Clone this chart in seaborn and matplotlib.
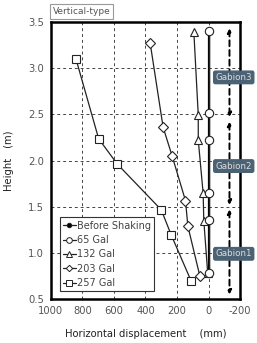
import matplotlib
matplotlib.use("Agg")
import matplotlib.pyplot as plt
import seaborn as sns
import pandas as pd
from matplotlib.lines import Line2D

sns.set_theme(style="white")
plt.rcParams['font.family'] = ['DejaVu Sans', 'Noto Sans CJK JP']

# Data (horizontal displacement in mm, height in m)
h_65 = [0.78, 1.36, 1.65, 2.22, 2.51, 3.40]
x_65 = [0, 0, 0, 0, 0, 0]
h_before = [0.78, 1.36, 1.65, 2.22, 2.51, 3.40]
x_before = [0, 0, 0, 0, 0, 0]
h_132 = [0.78, 1.35, 1.645, 2.22, 2.49, 3.39]
x_132 = [5, 30, 34, 65, 65, 93]
h_203 = [0.75, 1.29, 1.565, 2.05, 2.36, 3.27]
x_203 = [55, 131, 146, 231, 288, 370]
h_257 = [0.695, 1.196, 1.467, 1.964, 2.236, 3.095]
x_257 = [110, 237, 300, 580, 697, 840]

series_names = ["Before Shaking", "65 Gal", "132 Gal", "203 Gal", "257 Gal"]
gabion_labels = ["Gabion1", "Gabion2", "Gabion3"]
gabion_y = [0.99, 1.94, 2.90]
gabion_ranges = [(0.55, 1.47), (1.52, 2.42), (2.47, 3.43)]
gabion_x = -133
label_x = -160

xticks = [1000, 800, 600, 400, 200, 0, -200]
yticks = [0.5, 1.0, 1.5, 2.0, 2.5, 3.0, 3.5]

fig = plt.figure(figsize=(2.57, 3.43), dpi=100)
ax = fig.add_axes([0.198, 0.128, 0.736, 0.808])

styles = {
    "Before Shaking": dict(marker="o", ms=3, mfc="black", lw=1.6, color="black"),
    "65 Gal": dict(marker="o", ms=6.0, mfc="white", lw=1.0, color="#222222"),
    "132 Gal": dict(marker="^", ms=6.0, mfc="white", lw=0.9, color="#222222"),
    "203 Gal": dict(marker="D", ms=4.8, mfc="white", lw=0.9, color="#222222"),
    "257 Gal": dict(marker="s", ms=6.0, mfc="white", lw=0.9, color="#222222"),
}
data = {
    "Before Shaking": (x_before, h_before),
    "65 Gal": (x_65, h_65),
    "132 Gal": (x_132, h_132),
    "203 Gal": (x_203, h_203),
    "257 Gal": (x_257, h_257),
}

# Grid
for gx in [800, 600, 400, 200, 0]:
    ax.axvline(gx, color="#444444", ls=(0, (3, 3)), lw=0.7, zorder=0)
for gy in [1.0, 1.5, 2.0, 2.5, 3.0]:
    ax.axhline(gy, color="#444444", ls=(0, (3, 3)), lw=0.7, zorder=0)

for name in ["257 Gal", "203 Gal", "132 Gal", "Before Shaking", "65 Gal"]:
    xs, hs = data[name]
    df = pd.DataFrame({"x": xs, "h": hs})
    st = styles[name]
    sns.lineplot(data=df, x="x", y="h", sort=False, estimator=None, ax=ax,
                 color=st["color"], lw=st["lw"], marker=st["marker"],
                 markersize=st["ms"], markerfacecolor=st["mfc"],
                 markeredgecolor="#222222", markeredgewidth=0.8, zorder=3)

# Legend handles
leg_handles = []
for name in series_names:
    st = styles[name]
    leg_handles.append(Line2D([], [], color="#222222", lw=0.9, marker=st["marker"],
                              markersize=st["ms"] * 0.68 if name != "Before Shaking" else 3.2,
                              markerfacecolor=st["mfc"], markeredgecolor="#222222",
                              markeredgewidth=0.7))
leg = ax.legend(leg_handles, series_names, loc="lower left", bbox_to_anchor=(0.02, 0.01),
                fontsize=7, handlelength=1.3, handletextpad=0.1, labelspacing=0.45,
                borderpad=0.35, frameon=True, fancybox=False, edgecolor="#333333",
                framealpha=1, labelcolor="#444444")
leg.get_frame().set_linewidth(0.8)

# Gabion arrows
for (lo, hi) in gabion_ranges:
    ax.annotate("", xy=(gabion_x, lo), xytext=(gabion_x, hi),
                arrowprops=dict(arrowstyle="<|-|>", color="black", lw=1.4, ls=(0, (3, 2)),
                                mutation_scale=6, shrinkA=0, shrinkB=0), zorder=4)
for lab, gy in zip(gabion_labels, gabion_y):
    ax.text(label_x, gy, lab, ha="center", va="center", fontsize=6.3, color="#dddddd",
            bbox=dict(boxstyle="round,pad=0.2", fc="#4a6274", ec="#4a6274"),
            clip_on=False, zorder=6)

ax.set_xlim(1000, -200)
ax.set_ylim(0.5, 3.5)
ax.set_xticks(xticks)
ax.set_xticklabels([str(v) for v in xticks])
ax.set_yticks(yticks)
ax.set_yticklabels([f"{v:.1f}" for v in yticks])
ax.tick_params(axis="both", direction="in", length=3, width=0.8, labelsize=7.2,
               labelcolor="#555555", pad=5, color="black")
for s in ax.spines.values():
    s.set_linewidth(1.8)
    s.set_color("black")

ax.set_xlabel("Horizontal displacement\u3000 (mm)", fontsize=7.2, color="#222222", labelpad=9)
ax.set_ylabel("Height\u3000(m)", fontsize=7.2, color="#222222", labelpad=10)

fig.text(0.318, 0.967, "Vertical-type", ha="center", va="center", fontsize=6.5, color="#555555",
         bbox=dict(boxstyle="square,pad=0.3", fc="white", ec="#999999", lw=0.8))

fig.savefig("out.png", dpi=100)
